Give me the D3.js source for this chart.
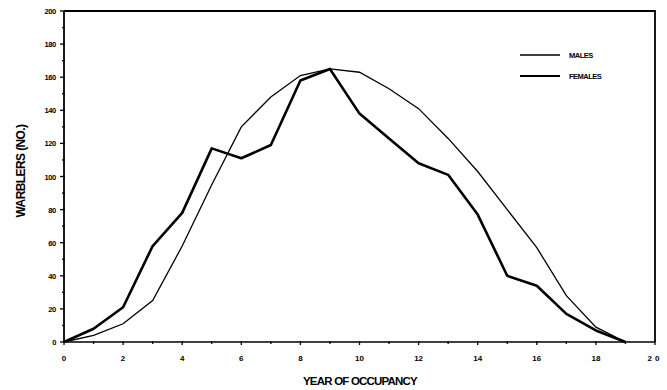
<!DOCTYPE html>
<html>
<head>
<meta charset="utf-8">
<script src="https://cdn.jsdelivr.net/npm/d3@7"></script>
<style>
  body { margin: 0; background: #fff; }
  svg text { font-family: "Liberation Sans", Arial, sans-serif; font-weight: bold; fill: #000; }
</style>
</head>
<body>
<svg width="667" height="390"></svg>
<script>
// data
var years = [0, 1, 2, 3, 4, 5, 6, 7, 8, 9, 10, 11, 12, 13, 14, 15, 16, 17, 18, 19];
var males = [0, 4, 11, 25, 58, 95, 130, 148, 161, 165, 163, 153, 141, 123, 103, 80, 57, 28, 9, 0];
var females = [0, 8, 21, 58, 78, 117, 111, 119, 158, 165, 138, 123, 108, 101, 77, 40, 34, 17, 7, 0];
var xTicks = [0, 2, 4, 6, 8, 10, 12, 14, 16, 18, 20];
var yTicks = [0, 20, 40, 60, 80, 100, 120, 140, 160, 180, 200];
var legendNames = ["MALES", "FEMALES"];

var svg = d3.select("svg");
// plot box (note: "top" is reserved on window, so use pl/pr/pt/pb)
var pl = 64, pr = 655, pt = 11, pb = 342;

var x = d3.scaleLinear().domain([0, 20]).range([pl, pr]);
var y = d3.scaleLinear().domain([0, 200]).range([pb, pt]);

// frame (top + right)
svg.append("path")
  .attr("d", "M" + pl + "," + pt + "H" + pr + "V" + pb)
  .attr("fill", "none").attr("stroke", "#000").attr("stroke-width", 1.8);

// x axis
var gx = svg.append("g").attr("transform", "translate(0," + pb + ")");
gx.append("line").attr("x1", pl).attr("x2", pr).attr("stroke", "#000").attr("stroke-width", 1.6);
gx.selectAll(".minor").data(d3.range(0, 21)).enter().append("line")
  .attr("x1", d => x(d)).attr("x2", d => x(d))
  .attr("y1", -1).attr("y2", d => d % 2 === 0 ? 3 : 2)
  .attr("stroke", "#000").attr("stroke-width", 1.3);
gx.selectAll("text").data(xTicks).enter().append("text")
  .attr("x", d => x(d)).attr("y", 19)
  .attr("text-anchor", "middle")
  .attr("font-size", 8)
  .attr("letter-spacing", d => d === 20 ? 3 : 0)
  .text(d => d);

// y axis
var gy = svg.append("g").attr("transform", "translate(" + pl + ",0)");
gy.append("line").attr("y1", pt).attr("y2", pb).attr("stroke", "#000").attr("stroke-width", 1.8);
gy.selectAll(".minor").data(d3.range(0, 201, 10)).enter().append("line")
  .attr("y1", d => y(d)).attr("y2", d => y(d))
  .attr("x1", d => d % 20 === 0 ? -4 : -2).attr("x2", 1)
  .attr("stroke", "#000").attr("stroke-width", 1.3);
gy.selectAll("text").data(yTicks).enter().append("text")
  .attr("x", -8).attr("y", d => y(d) + 3)
  .attr("text-anchor", "end")
  .attr("font-size", 7.5)
  .attr("letter-spacing", -0.3)
  .text(d => d);

// axis titles
svg.append("text")
  .attr("x", 360).attr("y", 385)
  .attr("text-anchor", "middle")
  .attr("font-size", 11.5)
  .attr("letter-spacing", -0.8)
  .text("YEAR OF OCCUPANCY");
svg.append("text")
  .attr("transform", "translate(25,171) rotate(-90)")
  .attr("text-anchor", "middle")
  .attr("font-size", 12)
  .attr("letter-spacing", -0.6)
  .text("WARBLERS (NO.)");

// lines
var line = d3.line().x((d, i) => x(years[i])).y(d => y(d));
svg.append("path").datum(males)
  .attr("d", line).attr("fill", "none")
  .attr("stroke", "#000").attr("stroke-width", 1.3);
svg.append("path").datum(females)
  .attr("d", line).attr("fill", "none")
  .attr("stroke", "#000").attr("stroke-width", 2.6).attr("stroke-linejoin", "round");

// legend
var leg = svg.append("g");
leg.selectAll("line").data(legendNames).enter().append("line")
  .attr("x1", 520).attr("x2", 560)
  .attr("y1", (d, i) => 55 + i * 21).attr("y2", (d, i) => 55 + i * 21)
  .attr("stroke", "#000").attr("stroke-width", (d, i) => i === 0 ? 1.4 : 2);
leg.selectAll("text").data(legendNames).enter().append("text")
  .attr("x", 569).attr("y", (d, i) => 58 + i * 21)
  .attr("font-size", 7.5)
  .attr("letter-spacing", -0.5)
  .text(d => d);
</script>
</body>
</html>
